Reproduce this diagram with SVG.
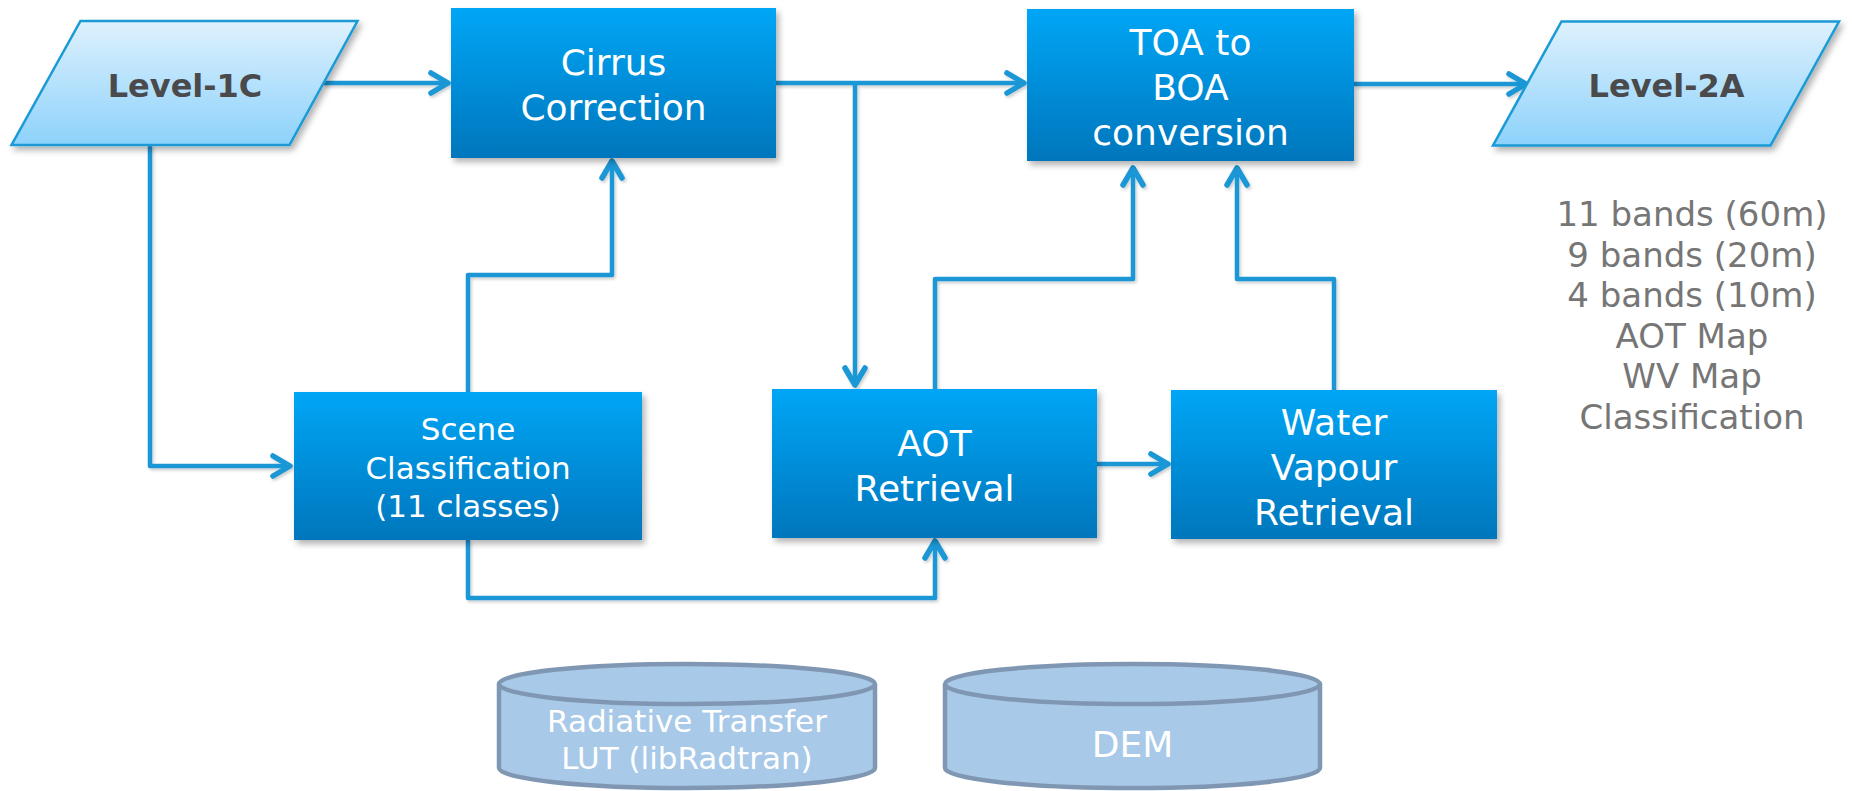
<svg xmlns="http://www.w3.org/2000/svg" width="1852" height="791" viewBox="0 0 1852 791">
<defs>
<linearGradient id="boxG" x1="0" y1="0" x2="0" y2="1">
<stop offset="0" stop-color="#02a6f6"/>
<stop offset="1" stop-color="#0076bc"/>
</linearGradient>
<linearGradient id="parG" x1="0" y1="0" x2="0" y2="1">
<stop offset="0" stop-color="#def1fd"/>
<stop offset="1" stop-color="#8dd2fb"/>
</linearGradient>
<filter id="sh" x="-10%" y="-10%" width="130%" height="130%">
<feDropShadow dx="3" dy="4" stdDeviation="3" flood-color="#000" flood-opacity="0.3"/>
</filter>
<filter id="lsh" x="-10%" y="-10%" width="130%" height="130%">
<feDropShadow dx="1.5" dy="2" stdDeviation="1.5" flood-color="#000" flood-opacity="0.2"/>
</filter>
<marker id="arr" markerUnits="userSpaceOnUse" markerWidth="40" markerHeight="40" viewBox="-30 -20 40 40" refX="0" refY="0" orient="auto" overflow="visible">
<path d="M -17 -10 L 0 0 L -17 10" fill="none" stroke="#1a97d5" stroke-width="5.5" stroke-linecap="round" stroke-linejoin="round"/>
</marker>
</defs>
<style>
.box{fill:url(#boxG);filter:url(#sh);}
.par{fill:url(#parG);stroke:#1a9ad6;stroke-width:2.5;filter:url(#sh);}
.bt{font-family:"DejaVu Sans","Liberation Sans",sans-serif;fill:#ffffff;text-anchor:middle;font-size:36px;}
.st{font-size:31px;}
.pt{font-family:"DejaVu Sans","Liberation Sans",sans-serif;font-weight:bold;fill:#4a4a4c;text-anchor:middle;font-size:32px;}
.cyl{fill:#a9c9e8;stroke:#7f97b2;stroke-width:4.5;}
.rt{font-family:"DejaVu Sans","Liberation Sans",sans-serif;fill:#767676;text-anchor:middle;font-size:34px;}
.c{fill:none;stroke:#1a97d5;stroke-width:4.5;stroke-linejoin:round;marker-end:url(#arr);}
.cn{fill:none;stroke:#1a97d5;stroke-width:4.5;stroke-linejoin:round;}
</style>
<rect width="1852" height="791" fill="#ffffff"/>

<g id="connectors" filter="url(#lsh)">
<path class="c" d="M 323 83 L 448 83"/>
<path class="c" d="M 150 145 L 150 466 L 290 466"/>
<path class="c" d="M 776 83 L 1024 83"/>
<path class="c" d="M 855 83 L 855 385"/>
<path class="c" d="M 468 392 L 468 275 L 612 275 L 612 161"/>
<path class="c" d="M 468 540 L 468 598 L 935 598 L 935 541"/>
<path class="c" d="M 935 389 L 935 279 L 1133 279 L 1133 168"/>
<path class="c" d="M 1097 464 L 1168 464"/>
<path class="c" d="M 1334 390 L 1334 279 L 1237 279 L 1237 168"/>
<path class="c" d="M 1354 84 L 1526 84"/>
</g>

<g id="level1c">
<polygon class="par" points="80.5,21 357.5,21 289.5,145 11.5,145"/>
<text class="pt" x="185" y="97">Level-1C</text>
</g>

<g id="cirrus">
<rect class="box" x="451" y="8" width="325" height="150"/>
<text class="bt" x="613.5" y="75">Cirrus</text>
<text class="bt" x="613.5" y="120">Correction</text>
</g>

<g id="toa">
<rect class="box" x="1027" y="9" width="327" height="152"/>
<text class="bt" x="1190.5" y="55">TOA to</text>
<text class="bt" x="1190.5" y="100">BOA</text>
<text class="bt" x="1190.5" y="145">conversion</text>
</g>

<g id="level2a">
<polygon class="par" points="1561.5,21.5 1839,21.5 1770.5,145.5 1493,145.5"/>
<text class="pt" x="1666.5" y="97">Level-2A</text>
</g>

<g id="scene">
<rect class="box" x="294" y="392" width="348" height="148"/>
<text class="bt st" x="468" y="440">Scene</text>
<text class="bt st" x="468" y="479">Classification</text>
<text class="bt st" x="468" y="517">(11 classes)</text>
</g>

<g id="aot">
<rect class="box" x="772" y="389" width="325" height="149"/>
<text class="bt" x="934.5" y="456">AOT</text>
<text class="bt" x="934.5" y="501">Retrieval</text>
</g>

<g id="wv">
<rect class="box" x="1171" y="390" width="326" height="149"/>
<text class="bt" x="1334" y="435">Water</text>
<text class="bt" x="1334" y="480">Vapour</text>
<text class="bt" x="1334" y="525">Retrieval</text>
</g>

<g id="outputs">
<text class="rt" x="1692" y="226">11 bands (60m)</text>
<text class="rt" x="1692" y="266.5">9 bands (20m)</text>
<text class="rt" x="1692" y="307">4 bands (10m)</text>
<text class="rt" x="1692" y="347.5">AOT Map</text>
<text class="rt" x="1692" y="388">WV Map</text>
<text class="rt" x="1692" y="428.5">Classification</text>
</g>

<g id="lut">
<path class="cyl" d="M 499 684 L 499 768 A 188 20 0 0 0 875 768 L 875 684"/>
<ellipse class="cyl" cx="687" cy="684" rx="188" ry="20"/>
<text class="bt st" x="687" y="732">Radiative Transfer</text>
<text class="bt st" x="687" y="769">LUT (libRadtran)</text>
</g>

<g id="dem">
<path class="cyl" d="M 945 684 L 945 768 A 187.5 20 0 0 0 1320 768 L 1320 684"/>
<ellipse class="cyl" cx="1132.5" cy="684" rx="187.5" ry="20"/>
<text class="bt" x="1132.5" y="757">DEM</text>
</g>
</svg>
